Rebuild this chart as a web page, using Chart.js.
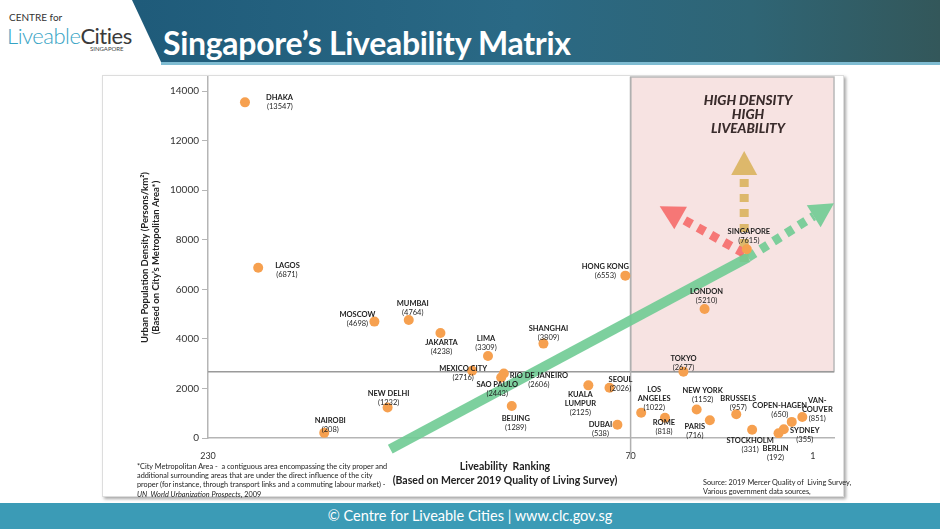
<!DOCTYPE html>
<html>
<head>
<meta charset="utf-8">
<script src="https://cdn.jsdelivr.net/npm/chart.js@4/dist/chart.umd.min.js"></script>
<style>
  body { margin: 0; width: 940px; height: 529px; background: #fff; position: relative; overflow: hidden; font-family: Lato, "Open Sans", sans-serif; }
  #banner { position: absolute; left: 0; top: 0; width: 940px; height: 62px;
    background: linear-gradient(90deg, #1b5676 0%, #2a6985 55%, #2f6575 80%, #33575a 100%);
    clip-path: polygon(132px 0, 940px 0, 940px 62px, 161px 62px); }
  #bannerLine { position: absolute; left: 161px; top: 62px; width: 779px; height: 3px; background: #7fbcd2; }
  #title { position: absolute; left: 163px; top: 23px; color: #fff; font-weight: 700; font-size: 32px; letter-spacing: -0.3px; }
  #logo1 { position: absolute; left: 9px; top: 11px; font-size: 10px; color: #333; }
  #logo2 { position: absolute; left: 7px; top: 22px; font-size: 22px; letter-spacing: -0.5px; }
  #logo2 .a { color: #36a3c4; font-weight: 300; }
  #logo2 .b { color: #3a3a3a; font-weight: 400; }
  #logo3 { position: absolute; left: 90px; top: 45px; font-size: 6px; color: #444; }
  #card { position: absolute; left: 102px; top: 75px; width: 740px; height: 420px; background: #fff;
    border: 1px solid #ddd; box-shadow: 2px 2px 3px rgba(0,0,0,0.35); }
  #lienzo { position: absolute; left: 0; top: -4px; width: 740px; height: 424px; }
  #xtitle { position: absolute; left: 380px; top: 459px; width: 250px; text-align: center; font-size: 10.5px; font-weight: 700; color: #222; line-height: 14px; }
  #note { position: absolute; left: 137px; top: 462px; font-size: 7.3px; color: #222; line-height: 9.2px; }
  #src { position: absolute; left: 703px; top: 478px; font-size: 7.3px; color: #222; line-height: 9.2px; }
  #footer { position: absolute; left: 0; top: 503px; width: 940px; height: 26px; background: #3b9bb6; color: #fff;
    text-align: center; font-size: 14.5px; line-height: 26px; }
</style>
</head>
<body>
<div id="logo1">CENTRE for</div>
<div id="logo2"><span class="a">Liveable</span><span class="b">Cities</span></div>
<div id="logo3">SINGAPORE</div>
<div id="banner"></div>
<div id="bannerLine"></div>
<div id="title">Singapore’s Liveability Matrix</div>
<div id="card"><div id="lienzo"><canvas id="grafica"></canvas></div></div>
<div id="xtitle">Liveability&nbsp; Ranking<br>(Based on Mercer 2019 Quality of Living Survey)</div>
<div id="note">*City Metropolitan Area -&nbsp; a contiguous area encompassing the city proper and<br>additional surrounding areas that are under the direct influence of the city<br>proper (for instance, through transport links and a commuting labour market) -<br><i>UN&nbsp; World Urbanization Prospects</i>, 2009</div>
<div id="src">Source: 2019 Mercer Quality of&nbsp; Living Survey,<br>Various government data sources,</div>
<div id="footer">© Centre for Liveable Cities | www.clc.gov.sg</div>

<script>
// Datos de las ciudades
const ciudades = ["DHAKA", "LAGOS", "MOSCOW", "MUMBAI", "JAKARTA", "LIMA", "MEXICO CITY", "SAO PAULO",
  "RIO DE JANEIRO", "NEW DELHI", "NAIROBI", "SHANGHAI", "BEIJING", "KUALA\nLUMPUR", "SEOUL", "DUBAI",
  "HONG KONG", "LOS\nANGELES", "ROME", "TOKYO", "NEW YORK", "PARIS", "LONDON", "BRUSSELS", "STOCKHOLM",
  "SINGAPORE", "BERLIN", "SYDNEY", "COPEN-HAGEN", "VAN-\nCOUVER"];
const ranking = [216, 211, 167, 154, 142, 124, 130, 119, 118, 162, 186, 103, 115, 86, 78, 75,
  72, 66, 57, 50, 45, 40, 42, 30, 24, 26, 14, 12, 9, 5];
const densidad = [13547, 6871, 4698, 4764, 4238, 3309, 2716, 2443, 2606, 1232, 208, 3809, 1289, 2125, 2026, 538,
  6553, 1022, 818, 2677, 1152, 716, 5210, 957, 331, 7615, 192, 355, 650, 851];

const xTicks = [230, 70, 1];
const yTicks = [0, 2000, 4000, 6000, 8000, 10000, 12000, 14000];
const umbralRanking = 70;
const umbralDensidad = 2677;

// Flechas (ranking, densidad): inicio, fin
const flechaVerdeSolida = [[161, -450], [25.5, 7290]];
const flechaVerdePuntos = [[25.5, 7290], [-7, 9470]];
const flechaRoja = [[27, 7450], [59, 9350]];
const flechaAmarilla = [[27, 7100], [27, 11580]];

// Posición de las etiquetas respecto al punto (px): dx, dy, alineación
const etiquetaPos = [
  [21, -5, "left"], [17, -2, "left"], [-17, -7, "center"], [4, -16, "center"], [1, 10, "center"],
  [-2, -17, "center"], [-9, -2, "center"], [-4, 7, "center"], [35, 2, "center"], [1, -14, "center"],
  [6, -12, "center"], [5, -15, "center"], [4, 13, "center"], [-8, 9, "center"], [11, -8, "center"],
  [-17, 0, "center"], [-20, -9, "center"], [13, -23, "center"], [-1, 5, "center"], [0, -13, "center"],
  [6, -19, "center"], [-15, 6, "center"], [2, -17, "center"], [2, -16, "center"], [-2, 11, "center"],
  [2, -18, "center"], [-3, 15, "center"], [21, 1, "center"], [-12, -16, "center"], [15, -16, "center"]
];

const fuente = 'Lato, "Open Sans", sans-serif';

function dibujarFlecha(ctx, x, y, p0, p1, color, discontinua, cabeza) {
  const a = [x.getPixelForValue(p0[0]), y.getPixelForValue(p0[1])];
  const b = [x.getPixelForValue(p1[0]), y.getPixelForValue(p1[1])];
  const ang = Math.atan2(b[1] - a[1], b[0] - a[0]);
  const largoCabeza = cabeza ? 24 : 0;
  const fin = [b[0] - Math.cos(ang) * largoCabeza, b[1] - Math.sin(ang) * largoCabeza];
  ctx.save();
  ctx.strokeStyle = color;
  ctx.fillStyle = color;
  ctx.lineWidth = discontinua ? 9 : 10;
  ctx.setLineDash(discontinua ? [8, 7] : []);
  ctx.beginPath();
  ctx.moveTo(a[0], a[1]);
  ctx.lineTo(fin[0], fin[1]);
  ctx.stroke();
  if (cabeza) {
    const w = 13;
    ctx.setLineDash([]);
    ctx.beginPath();
    ctx.moveTo(b[0], b[1]);
    ctx.lineTo(fin[0] + Math.cos(ang + Math.PI / 2) * w, fin[1] + Math.sin(ang + Math.PI / 2) * w);
    ctx.lineTo(fin[0] - Math.cos(ang + Math.PI / 2) * w, fin[1] - Math.sin(ang + Math.PI / 2) * w);
    ctx.closePath();
    ctx.fill();
  }
  ctx.restore();
}

const fondoPlugin = {
  id: "fondo",
  beforeDatasetsDraw(chart) {
    const { ctx, chartArea: ca, scales: { x, y } } = chart;
    const xu = x.getPixelForValue(umbralRanking);
    const yu = y.getPixelForValue(umbralDensidad);
    ctx.save();
    // zona rosa
    ctx.fillStyle = "#f7e3e2";
    ctx.fillRect(xu, ca.top, ca.right - xu, yu - ca.top);
    ctx.strokeStyle = "#b8b8b8";
    ctx.lineWidth = 1.5;
    ctx.strokeRect(xu, ca.top, ca.right - xu, yu - ca.top);
    // líneas de umbral
    ctx.strokeStyle = "#9a9a9a";
    ctx.lineWidth = 1.5;
    ctx.beginPath();
    ctx.moveTo(ca.left, yu);
    ctx.lineTo(ca.right, yu);
    ctx.stroke();
    ctx.strokeStyle = "#b0b0b0";
    ctx.beginPath();
    ctx.moveTo(xu, ca.top);
    ctx.lineTo(xu, ca.bottom + 21);
    ctx.stroke();
    // texto de la zona
    ctx.fillStyle = "#3a2c2c";
    ctx.font = "italic 900 13.5px " + fuente;
    ctx.textAlign = "center";
    ctx.textBaseline = "middle";
    const cx = ca.right - 86;
    ["HIGH DENSITY", "HIGH", "LIVEABILITY"].forEach((t, i) => ctx.fillText(t, cx, ca.top + 24 + i * 14));
    ctx.restore();

    ctx.save();
    ctx.globalAlpha = 0.9;
    dibujarFlecha(ctx, x, y, flechaAmarilla[0], flechaAmarilla[1], "#d9b35e", true, true);
    dibujarFlecha(ctx, x, y, flechaRoja[0], flechaRoja[1], "#f56a6a", true, true);
    dibujarFlecha(ctx, x, y, flechaVerdeSolida[0], flechaVerdeSolida[1], "#6fcb94", false, false);
    dibujarFlecha(ctx, x, y, flechaVerdePuntos[0], flechaVerdePuntos[1], "#6fcb94", true, true);
    ctx.restore();
  },
  afterDatasetsDraw(chart) {
    const { ctx } = chart;
    const meta = chart.getDatasetMeta(0);
    ctx.save();
    ctx.fillStyle = "#1e1e1e";
    ctx.textBaseline = "middle";
    meta.data.forEach((p, i) => {
      const [dx, dy, al] = etiquetaPos[i];
      const lineas = ciudades[i].split("\n");
      ctx.textAlign = al;
      ctx.font = "bold 7.5px " + fuente;
      lineas.forEach((l, k) => ctx.fillText(l, p.x + dx, p.y + dy + k * 9));
      ctx.font = "7.5px " + fuente;
      const t = "(" + densidad[i] + ")";
      const tx = al === "left" ? p.x + dx + 1 : p.x + dx;
      ctx.fillText(t, tx, p.y + dy + lineas.length * 9);
    });
    ctx.restore();
  }
};

const puntos = ranking.map((r, i) => ({ x: r, y: densidad[i] }));

new Chart(document.getElementById("grafica").getContext("2d"), {
  type: "scatter",
  data: {
    datasets: [{
      data: puntos,
      backgroundColor: "#f6a04f",
      borderWidth: 0,
      pointRadius: 5,
      pointHoverRadius: 5
    }]
  },
  options: {
    responsive: true,
    maintainAspectRatio: false,
    animation: false,
    events: [],
    layout: { padding: { left: 36, top: 1, right: 9, bottom: 0 } },
    plugins: { legend: { display: false }, tooltip: { enabled: false } },
    scales: {
      x: {
        type: "linear",
        reverse: true,
        min: -7,
        max: 230,
        afterBuildTicks: s => { s.ticks = xTicks.map(v => ({ value: v })); },
        afterFit: s => { s.height = 58; s.paddingLeft = 0; s.paddingRight = 0; },
        grid: { display: false },
        border: { display: true, color: "#b5b5b5", width: 1.5 },
        ticks: { color: "#333", font: { family: fuente, size: 9 }, padding: 5, maxRotation: 0, autoSkip: false,
          callback: v => String(v) }
      },
      y: {
        min: 0,
        max: 14570,
        afterBuildTicks: s => { s.ticks = yTicks.map(v => ({ value: v })); },
        afterFit: s => { s.width = 69; s.paddingTop = 0; s.paddingBottom = 0; },
        grid: { drawOnChartArea: false, tickLength: 6, color: "#b5b5b5" },
        border: { display: true, color: "#b5b5b5", width: 1.5 },
        ticks: { color: "#333", font: { family: fuente, size: 10 }, padding: 3, callback: v => String(v) },
        title: {
          display: true,
          text: ["Urban Population Density (Persons/km²)", "(Based on City’s Metropolitan Area*)"],
          color: "#222",
          font: { family: fuente, size: 9.5, weight: "bold" },
          padding: 0
        }
      }
    }
  },
  plugins: [fondoPlugin]
});
</script>
</body>
</html>
